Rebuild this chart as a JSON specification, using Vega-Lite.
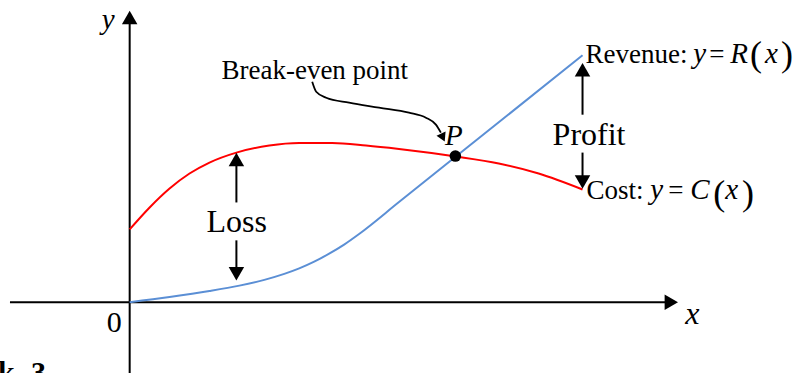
{
  "$schema": "https://vega.github.io/schema/vega-lite/v6.json",
  "width": 793,
  "height": 374,
  "autosize": {"type": "fit", "contains": "padding"},
  "padding": 0,
  "background": "white",
  "config": {"view": {"stroke": null}, "font": "Liberation Serif"},
  "datasets": {
    "curves": [
      {"series": "Cost", "x": 0, "y": 73},
      {"series": "Cost", "x": 20, "y": 95},
      {"series": "Cost", "x": 40, "y": 114},
      {"series": "Cost", "x": 60, "y": 129},
      {"series": "Cost", "x": 80, "y": 140},
      {"series": "Cost", "x": 107, "y": 150},
      {"series": "Cost", "x": 140, "y": 157},
      {"series": "Cost", "x": 170, "y": 159.5},
      {"series": "Cost", "x": 203, "y": 159.5},
      {"series": "Cost", "x": 237, "y": 157},
      {"series": "Cost", "x": 270, "y": 153.5},
      {"series": "Cost", "x": 327, "y": 146},
      {"series": "Cost", "x": 370, "y": 139},
      {"series": "Cost", "x": 410, "y": 129},
      {"series": "Cost", "x": 454, "y": 113},
      {"series": "Revenue", "x": 0, "y": 0},
      {"series": "Revenue", "x": 40, "y": 5.2},
      {"series": "Revenue", "x": 80, "y": 11.2},
      {"series": "Revenue", "x": 110, "y": 16.6},
      {"series": "Revenue", "x": 135, "y": 22.4},
      {"series": "Revenue", "x": 155, "y": 28.4},
      {"series": "Revenue", "x": 170, "y": 33.9},
      {"series": "Revenue", "x": 185, "y": 40.6},
      {"series": "Revenue", "x": 200, "y": 48.7},
      {"series": "Revenue", "x": 215, "y": 57.8},
      {"series": "Revenue", "x": 230, "y": 68.4},
      {"series": "Revenue", "x": 270, "y": 100.4},
      {"series": "Revenue", "x": 327, "y": 146},
      {"series": "Revenue", "x": 454, "y": 247.6}
    ],
    "shafts": [
      {"x": -120, "y": 0, "x2": 543, "y2": 0},
      {"x": 0, "y": -71, "x2": 0, "y2": 285},
      {"x": 107, "y": 100, "x2": 107, "y2": 143},
      {"x": 107, "y": 28, "x2": 107, "y2": 62},
      {"x": 454, "y": 188, "x2": 454, "y2": 233},
      {"x": 454, "y": 120, "x2": 454, "y2": 150}
    ],
    "heads": [
      {"x": 543, "y": 0, "dir": "right"},
      {"x": 0, "y": 285.5, "dir": "up"},
      {"x": 107, "y": 143, "dir": "up"},
      {"x": 107, "y": 28.5, "dir": "down"},
      {"x": 454, "y": 233, "dir": "up"},
      {"x": 454, "y": 120.5, "dir": "down"}
    ],
    "pointer": [
      {"x": 183, "y": 221},
      {"x": 187, "y": 211},
      {"x": 197, "y": 205},
      {"x": 220, "y": 200},
      {"x": 250, "y": 195},
      {"x": 280, "y": 190},
      {"x": 297, "y": 185},
      {"x": 307, "y": 178},
      {"x": 312, "y": 170}
    ],
    "pointerHead": [{"x": 314, "y": 165}],
    "breakeven": [{"x": 326.5, "y": 146.5}],
    "labels": [
      {"text": "Break-even point", "x": 92, "y": 224, "role": "word"},
      {"text": "Revenue:", "x": 457, "y": 240, "role": "word"},
      {"text": "=", "x": 581, "y": 240, "role": "word"},
      {"text": "Cost:", "x": 458, "y": 103, "role": "word"},
      {"text": "=", "x": 540, "y": 103, "role": "word"},
      {"text": "Loss", "x": 77, "y": 70, "role": "big"},
      {"text": "Profit", "x": 424, "y": 158, "role": "big"},
      {"text": "0", "x": -23, "y": -30, "role": "origin"},
      {"text": "y", "x": -28, "y": 274, "role": "var"},
      {"text": "P", "x": 316, "y": 158, "role": "var"},
      {"text": "y", "x": 565, "y": 240, "role": "var"},
      {"text": "R", "x": 602, "y": 240, "role": "var"},
      {"text": "x", "x": 637, "y": 240, "role": "var"},
      {"text": "y", "x": 522, "y": 103, "role": "var"},
      {"text": "C", "x": 562, "y": 103, "role": "var"},
      {"text": "x", "x": 597, "y": 103, "role": "var"},
      {"text": "x", "x": 557, "y": -22, "role": "axisvar"},
      {"text": "(", "x": 622, "y": 237, "role": "paren"},
      {"text": ")", "x": 653, "y": 237, "role": "paren"},
      {"text": "(", "x": 585, "y": 97, "role": "paren"},
      {"text": ")", "x": 614, "y": 97, "role": "paren"},
      {"text": "k", "x": -132, "y": -80, "role": "caption"},
      {"text": "3", "x": -99, "y": -80, "role": "caption"}
    ]
  },
  "encoding": {
    "x": {"field": "x", "type": "quantitative", "scale": {"domain": [-130, 663], "nice": false, "zero": false}, "axis": null},
    "y": {"field": "y", "type": "quantitative", "scale": {"domain": [-71, 303], "nice": false, "zero": false}, "axis": null}
  },
  "layer": [
    {
      "data": {"name": "shafts"},
      "mark": {"type": "rule", "strokeWidth": 2, "color": "black"},
      "encoding": {"x2": {"field": "x2"}, "y2": {"field": "y2"}}
    },
    {
      "data": {"name": "curves"},
      "mark": {"type": "line", "strokeWidth": 2, "interpolate": "monotone"},
      "encoding": {
        "color": {"field": "series", "type": "nominal", "scale": {"domain": ["Cost", "Revenue"], "range": ["#ff0000", "#5b8fd5"]}, "legend": null}
      }
    },
    {
      "data": {"name": "heads"},
      "mark": {"type": "point", "filled": true, "color": "black", "opacity": 1, "size": 240},
      "encoding": {
        "shape": {"field": "dir", "type": "nominal", "scale": {"domain": ["up", "down", "right"], "range": ["triangle-up", "triangle-down", "triangle-right"]}, "legend": null}
      }
    },
    {
      "data": {"name": "pointer"},
      "mark": {"type": "line", "strokeWidth": 1.8, "color": "black", "interpolate": "monotone"},
      "encoding": {}
    },
    {
      "data": {"name": "pointerHead"},
      "mark": {"type": "point", "shape": "triangle-up", "angle": 155, "filled": true, "color": "black", "opacity": 1, "size": 100}
    },
    {
      "data": {"name": "breakeven"},
      "mark": {"type": "circle", "color": "black", "opacity": 1, "size": 133}
    },
    {
      "data": {"name": "labels"},
      "transform": [{"filter": "datum.role === 'word'"}],
      "mark": {"type": "text", "fontSize": 27, "align": "left", "baseline": "alphabetic", "color": "black"},
      "encoding": {"text": {"field": "text"}}
    },
    {
      "data": {"name": "labels"},
      "transform": [{"filter": "datum.role === 'big'"}],
      "mark": {"type": "text", "fontSize": 32, "align": "left", "baseline": "alphabetic", "color": "black"},
      "encoding": {"text": {"field": "text"}}
    },
    {
      "data": {"name": "labels"},
      "transform": [{"filter": "datum.role === 'origin'"}],
      "mark": {"type": "text", "fontSize": 30, "align": "left", "baseline": "alphabetic", "color": "black"},
      "encoding": {"text": {"field": "text"}}
    },
    {
      "data": {"name": "labels"},
      "transform": [{"filter": "datum.role === 'var'"}],
      "mark": {"type": "text", "fontSize": 29, "fontStyle": "italic", "align": "left", "baseline": "alphabetic", "color": "black"},
      "encoding": {"text": {"field": "text"}}
    },
    {
      "data": {"name": "labels"},
      "transform": [{"filter": "datum.role === 'axisvar'"}],
      "mark": {"type": "text", "fontSize": 32, "fontStyle": "italic", "align": "left", "baseline": "alphabetic", "color": "black"},
      "encoding": {"text": {"field": "text"}}
    },
    {
      "data": {"name": "labels"},
      "transform": [{"filter": "datum.role === 'paren'"}],
      "mark": {"type": "text", "fontSize": 36, "align": "left", "baseline": "alphabetic", "color": "black"},
      "encoding": {"text": {"field": "text"}}
    },
    {
      "data": {"name": "labels"},
      "transform": [{"filter": "datum.role === 'caption'"}],
      "mark": {"type": "text", "fontSize": 30, "fontWeight": "bold", "align": "left", "baseline": "alphabetic", "color": "black", "clip": true},
      "encoding": {"text": {"field": "text"}}
    }
  ]
}
